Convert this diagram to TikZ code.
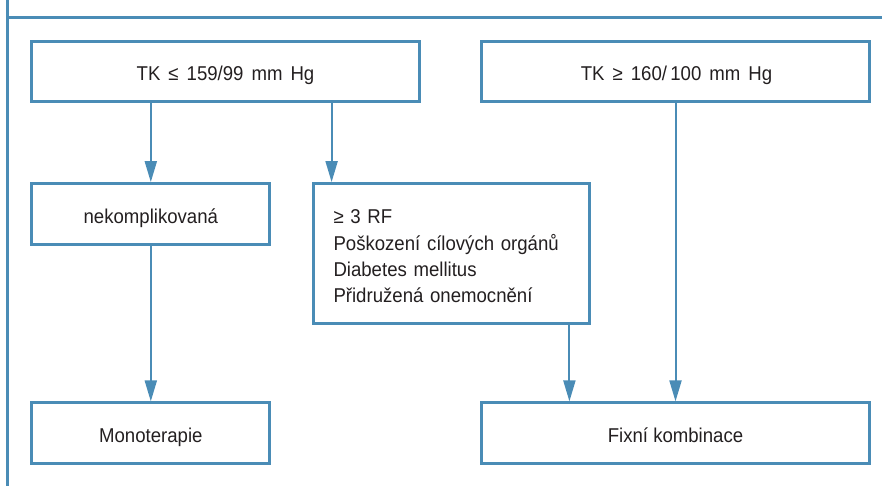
\documentclass[tikz,border=0pt]{standalone}
\usepackage{fontspec}
\setmainfont{Liberation Sans}[FakeStretch=0.93]
\usetikzlibrary{arrows.meta}
\definecolor{lineblue}{HTML}{4A8CB6}
\definecolor{txt}{HTML}{231F20}
\begin{document}
\begin{tikzpicture}[x=1pt,y=-1pt,
  box/.style={draw=lineblue, line width=2.8pt, rectangle, inner sep=0pt,
    text=txt, font=\fontsize{20}{26.3}\selectfont, text height=19pt, text depth=0pt},
  widesp/.style={execute at begin node={\spaceskip=8pt plus 1pt\relax}},
  arr/.style={draw=lineblue, line width=2pt, -{Triangle[length=21pt,width=12pt]}},
  frame/.style={draw=lineblue, line width=2.4pt}]
\useasboundingbox (0,0) rectangle (882,486);
% frame
\coordinate (ftl) at (7.5,17.5);
\coordinate (ftr) at (882,17.5);
\coordinate (fbl) at (7.5,486);
\coordinate (ftop) at (7.5,0);
\draw[frame] (ftop) -- (fbl);
\draw[frame] (ftl) -- (ftr);
% boxes
\node[box, widesp, minimum width=388pt, minimum height=60pt] (b1) at (225.5,71.5) {TK ≤ 159/99 mm Hg};
\node[box, widesp, minimum width=388pt, minimum height=60pt] (b2) at (675.5,71.5) {\hspace{2pt}TK ≥ 160/\,100 mm Hg};
\node[box, minimum width=238pt, minimum height=61pt] (b3) at (150.8,214) {nekomplikovaná};
\node[box, minimum width=276pt, minimum height=140pt, text width=236pt, align=left,
      inner xsep=20pt, text height=, text depth=] (b4) at (451.5,253.5)
  {\rule{0pt}{20pt}≥ 3 RF\\Poškození cílových orgánů\\Diabetes mellitus\\Přidružená onemocnění};
\node[box, minimum width=238pt, minimum height=61pt] (b5) at (150.8,433.3) {Monoterapie};
\node[box, minimum width=388pt, minimum height=61pt] (b6) at (675.5,433.3) {Fixní kombinace};
% connectors
\draw[arr] (b1.south -| b3.north) -- (b3.north);
\draw[arr] ([xshift=19.5pt]b4.north west |- b1.south) -- ([xshift=19.5pt]b4.north west);
\draw[arr] (b2.south) -- (b6.north);
\draw[arr] (b3.south) -- (b5.north);
\draw[arr] ([xshift=-21.5pt]b4.south east) -- ([xshift=-21.5pt]b4.south east |- b6.north);
\end{tikzpicture}
\end{document}
